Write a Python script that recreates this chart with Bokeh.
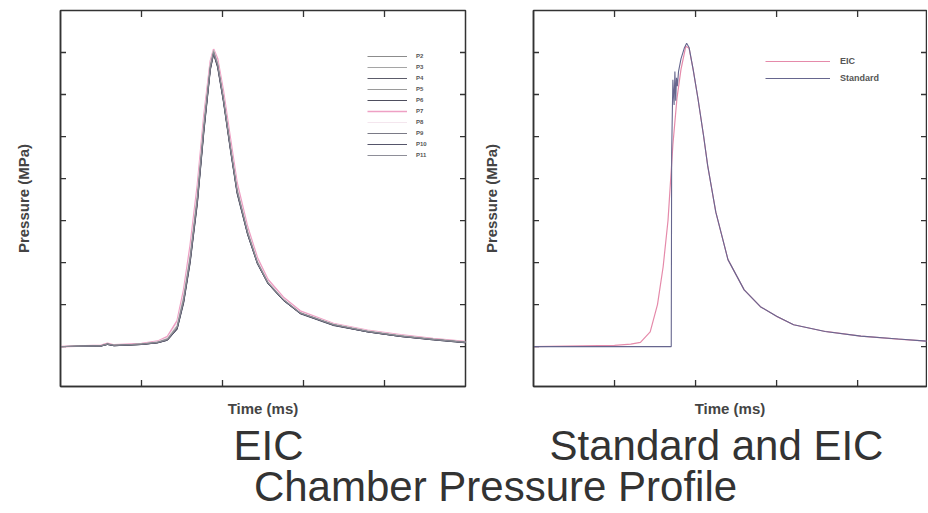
import math
from bokeh.plotting import figure
from bokeh.models import FixedTicker, Label, Legend, LegendItem, Range1d
from bokeh.layouts import column, row
from bokeh.embed import file_html
from bokeh.resources import INLINE

# ---------------- data ----------------
t_eic = [0.0, 0.5, 0.58, 0.66, 1.0, 1.2, 1.32, 1.44, 1.52, 1.6, 1.69, 1.77, 1.85, 1.89,
         1.94, 2.01, 2.1, 2.18, 2.31, 2.43, 2.56, 2.75, 2.96, 3.37, 3.79, 4.2, 4.6, 5.0]

p2 = [0.0, 0.02, 0.07, 0.03, 0.06, 0.10, 0.17, 0.45, 1.10, 2.07, 3.50, 5.20, 6.65, 7.00,
      6.70, 5.90, 4.70, 3.70, 2.70, 2.00, 1.52, 1.12, 0.80, 0.52, 0.36, 0.25, 0.17, 0.10]
p3 = [0.0, 0.02, 0.05, 0.03, 0.06, 0.11, 0.19, 0.50, 1.18, 2.15, 3.60, 5.30, 6.70, 7.05,
      6.75, 5.95, 4.75, 3.75, 2.74, 2.03, 1.54, 1.13, 0.81, 0.53, 0.37, 0.26, 0.18, 0.11]
p4 = [0.0, 0.01, 0.06, 0.02, 0.05, 0.09, 0.15, 0.42, 1.05, 2.00, 3.42, 5.12, 6.60, 6.97,
      6.68, 5.88, 4.68, 3.68, 2.69, 1.99, 1.51, 1.11, 0.79, 0.51, 0.35, 0.24, 0.17, 0.10]
p5 = [0.0, 0.02, 0.06, 0.03, 0.06, 0.10, 0.18, 0.47, 1.12, 2.10, 3.55, 5.25, 6.68, 7.02,
      6.72, 5.92, 4.72, 3.72, 2.72, 2.01, 1.53, 1.12, 0.80, 0.52, 0.36, 0.25, 0.17, 0.10]
p6 = [0.0, 0.01, 0.05, 0.02, 0.05, 0.09, 0.16, 0.43, 1.07, 2.03, 3.46, 5.16, 6.62, 6.98,
      6.66, 5.86, 4.66, 3.66, 2.67, 1.98, 1.50, 1.10, 0.79, 0.51, 0.35, 0.24, 0.16, 0.09]
p7 = [0.0, 0.03, 0.08, 0.04, 0.07, 0.13, 0.24, 0.62, 1.35, 2.40, 3.85, 5.50, 6.80, 7.08,
      6.85, 6.10, 4.92, 3.90, 2.85, 2.12, 1.60, 1.18, 0.85, 0.55, 0.39, 0.28, 0.19, 0.12]
p8 = [0.0, 0.02, 0.06, 0.03, 0.06, 0.12, 0.21, 0.55, 1.25, 2.25, 3.70, 5.38, 6.74, 7.06,
      6.78, 6.00, 4.80, 3.80, 2.78, 2.06, 1.56, 1.15, 0.82, 0.54, 0.38, 0.27, 0.18, 0.11]
p9 = [0.0, 0.01, 0.06, 0.03, 0.05, 0.10, 0.16, 0.44, 1.08, 2.05, 3.48, 5.18, 6.64, 6.99,
      6.69, 5.89, 4.69, 3.69, 2.69, 1.99, 1.51, 1.11, 0.80, 0.52, 0.36, 0.25, 0.17, 0.10]
p10 = [0.0, 0.02, 0.05, 0.02, 0.05, 0.09, 0.15, 0.41, 1.03, 1.98, 3.40, 5.10, 6.58, 6.96,
       6.64, 5.84, 4.64, 3.64, 2.66, 1.97, 1.50, 1.10, 0.78, 0.50, 0.35, 0.24, 0.16, 0.09]
p11 = [0.0, 0.02, 0.06, 0.03, 0.06, 0.10, 0.17, 0.46, 1.11, 2.08, 3.52, 5.22, 6.66, 7.01,
       6.71, 5.91, 4.71, 3.71, 2.71, 2.00, 1.52, 1.12, 0.80, 0.52, 0.36, 0.25, 0.17, 0.10]

eic_series = [("P2", p2), ("P3", p3), ("P4", p4), ("P5", p5), ("P6", p6),
              ("P7", p7), ("P8", p8), ("P9", p9), ("P10", p10), ("P11", p11)]
eic_colors = ["#8c8c8c", "#a5a5a5", "#5c5c6a", "#9a9a9a", "#4e4e5e",
              "#eea0c4", "#f4e6ee", "#7a7a86", "#55556a", "#8e8e98"]

t_eic_b = [0.0, 1.0, 1.2, 1.32, 1.44, 1.53, 1.6, 1.66, 1.72, 1.77, 1.82, 1.88, 1.92,
           1.97, 2.03, 2.1, 2.15, 2.25, 2.4, 2.6, 2.8, 3.0, 3.21, 3.6, 4.04, 4.5, 4.85]
p_eic_b = [0.0, 0.03, 0.06, 0.10, 0.35, 1.00, 1.90, 3.00, 4.80, 5.90, 6.60, 7.15, 7.10,
           6.60, 5.90, 5.00, 4.30, 3.20, 2.07, 1.35, 0.95, 0.72, 0.52, 0.36, 0.25, 0.18, 0.13]

t_std = [0.0, 1.0, 1.70, 1.705, 1.72, 1.735, 1.745, 1.755, 1.765, 1.775, 1.79, 1.82,
         1.86, 1.89, 1.92, 1.97, 2.03, 2.1, 2.15, 2.25, 2.4, 2.6, 2.8, 3.0, 3.21, 3.6,
         4.04, 4.5, 4.85]
p_std = [0.0, 0.0, 0.0, 4.60, 6.35, 5.75, 6.55, 5.85, 6.40, 6.20, 6.55, 6.85,
         7.10, 7.22, 7.12, 6.60, 5.90, 5.00, 4.30, 3.20, 2.07, 1.35, 0.95, 0.72, 0.52, 0.36,
         0.25, 0.18, 0.13]

x_ticks = [1, 2, 3, 4]
y_ticks = [0, 1, 2, 3, 4, 5, 6, 7]

x_label = "Time (ms)"
y_label = "Pressure (MPa)"
left_title = "EIC"
right_title = "Standard and EIC"
main_title = "Chamber Pressure Profile"

FONT = "Liberation Sans"
AX = "#333333"


def style(p, y_standoff):
    p.grid.visible = False
    p.outline_line_color = AX
    p.outline_line_width = 1.5
    for ax in p.xaxis + p.yaxis:
        ax.ticker = FixedTicker(ticks=[])
        ax.major_tick_in = 0
        ax.major_tick_out = 0
        ax.minor_tick_in = 0
        ax.minor_tick_out = 0
        ax.axis_line_color = AX
        ax.axis_line_width = 1.5
        ax.axis_label_text_font = FONT
        ax.axis_label_text_font_style = "bold"
        ax.axis_label_text_font_size = "15px"
        ax.axis_label_text_color = "#444444"
    p.xaxis.axis_label = x_label
    p.yaxis.axis_label = y_label
    p.xaxis.axis_label_standoff = 13
    p.yaxis.axis_label_standoff = y_standoff
    # inward tick marks on all four sides (half of each dash is clipped by the frame)
    x0, x1 = p.x_range.start, p.x_range.end
    y0, y1 = p.y_range.start, p.y_range.end
    for yy in (y0, y1):
        p.scatter(x_ticks, [yy] * len(x_ticks), marker="dash", size=13,
                  angle=math.pi / 2, line_color=AX, line_width=1.3)
    for xx in (x0, x1):
        p.scatter([xx] * len(y_ticks), y_ticks, marker="dash", size=11,
                  line_color=AX, line_width=1.3)


# ---------------- left panel ----------------
p1 = figure(width=474, height=419, x_range=Range1d(0, 5), y_range=Range1d(-0.95, 8.0),
            output_backend="svg", toolbar_location=None,
            min_border_left=60, min_border_right=9, min_border_top=10, min_border_bottom=32)
style(p1, 29)

renderers = {}
for i in [5, 6, 0, 1, 2, 3, 4, 7, 8, 9]:
    name, vals = eic_series[i]
    w = 1.6 if name == "P7" else 1.0
    renderers[name] = p1.line(t_eic, vals, line_color=eic_colors[i], line_width=w)
items = [LegendItem(label=name, renderers=[renderers[name]]) for name, _ in eic_series]
leg1 = Legend(items=items, location=(307, 226), glyph_width=40, glyph_height=10,
              label_height=10, spacing=1, padding=0, margin=0, label_standoff=9,
              label_text_font=FONT, label_text_font_size="6px",
              label_text_font_style="bold", label_text_color="#555555",
              border_line_color=None, background_fill_alpha=0)
p1.add_layout(leg1)

# ---------------- right panel ----------------
p2f = figure(width=453, height=419, x_range=Range1d(0, 4.85), y_range=Range1d(-0.95, 8.0),
             output_backend="svg", toolbar_location=None,
             min_border_left=59, min_border_right=1, min_border_top=10, min_border_bottom=32)
style(p2f, 34)

r_eic = p2f.line(t_eic_b, p_eic_b, line_color="#e58aaa", line_width=1.2)
r_std = p2f.line(t_std, p_std, line_color="#66668e", line_width=1.1)
leg2 = Legend(items=[LegendItem(label="EIC", renderers=[r_eic]),
                     LegendItem(label="Standard", renderers=[r_std])],
              location=(232, 302), glyph_width=65, glyph_height=12, label_height=12,
              spacing=5, padding=0, margin=0, label_standoff=10,
              label_text_font=FONT, label_text_font_size="9px",
              label_text_font_style="bold", label_text_color="#555555",
              border_line_color=None, background_fill_alpha=0)
p2f.add_layout(leg2)

# ---------------- captions ----------------
p3 = figure(width=927, height=94, x_range=Range1d(0, 927), y_range=Range1d(0, 94),
            output_backend="svg", toolbar_location=None, min_border=0, title=None,
            x_axis_location=None, y_axis_location=None)
p3.grid.visible = False
p3.outline_line_color = None
for txt, cx, by in ((left_title, 268, 68), (right_title, 716, 68), (main_title, 495, 27)):
    p3.add_layout(Label(x=cx, y=by, text=txt, text_align="center",
                        text_baseline="alphabetic", text_font=FONT,
                        text_font_size="42px", text_color="#333333"))

layout = column(row(p1, p2f), p3)
open("out.html", "w").write(file_html(layout, INLINE))
